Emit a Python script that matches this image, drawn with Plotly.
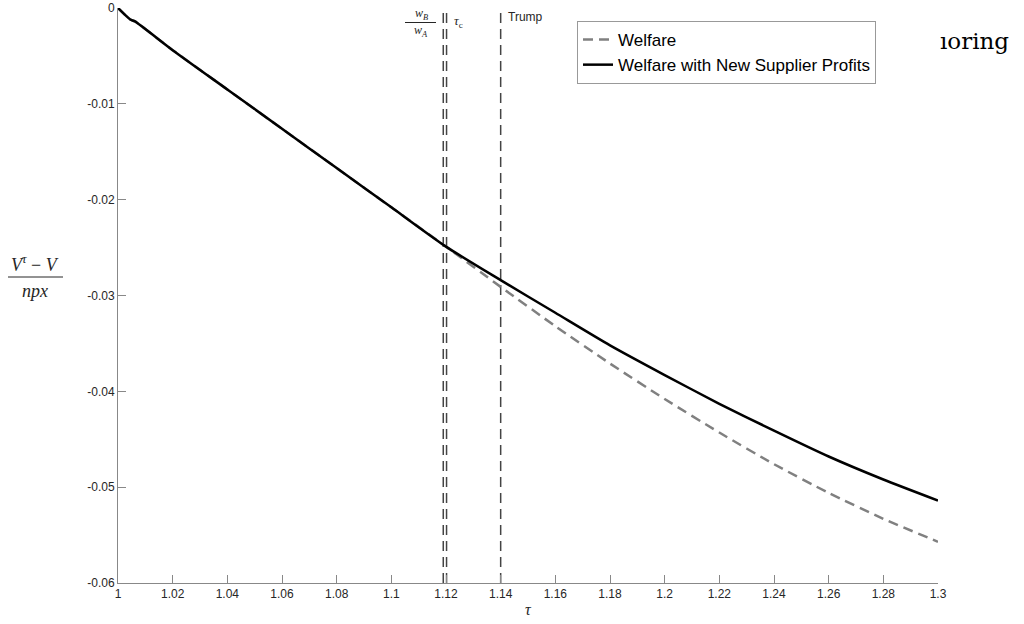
import plotly.graph_objects as go

# ---- data ----
tau = [1.0, 1.0045, 1.0062, 1.02, 1.04, 1.06, 1.08, 1.10, 1.12,
       1.14, 1.16, 1.18, 1.20, 1.22, 1.24, 1.26, 1.28, 1.30]
welfare = [0.0, -0.0012, -0.0014, -0.0044, -0.0085, -0.0126, -0.0167, -0.0208, -0.0249,
           -0.0291, -0.0332, -0.0371, -0.0408, -0.0443, -0.0476, -0.0506, -0.0533, -0.0557]
welfare_profits = [0.0, -0.0012, -0.0014, -0.0044, -0.0085, -0.0126, -0.0167, -0.0208, -0.0249,
                   -0.0284, -0.0318, -0.0352, -0.0383, -0.0413, -0.0441, -0.0468, -0.0492, -0.0514]
vline_x = [1.119, 1.1202, 1.14]

x_tickvals = [1.0, 1.02, 1.04, 1.06, 1.08, 1.1, 1.12, 1.14, 1.16, 1.18, 1.2, 1.22, 1.24, 1.26, 1.28, 1.3]
x_ticktext = ["1", "1.02", "1.04", "1.06", "1.08", "1.1", "1.12", "1.14", "1.16", "1.18", "1.2",
              "1.22", "1.24", "1.26", "1.28", "1.3"]
y_tickvals = [0, -0.01, -0.02, -0.03, -0.04, -0.05, -0.06]
y_ticktext = ["0", "-0.01", "-0.02", "-0.03", "-0.04", "-0.05", "-0.06"]
y_range = [-0.06, 0.0]

# ---- layout geometry ----
W, H = 1024, 624
L, R, T, B = 118, 86, 8, 41
PW, PH = W - L - R, H - T - B


def px(xp):
    return (xp - L) / PW


def py(yp):
    return 1 - (yp - T) / PH


SANS = "Liberation Sans, Arial, Helvetica, sans-serif"
SERIF = "Liberation Serif, DejaVu Serif, serif"
DASH = "10px,6px"

fig = go.Figure()

for xv in vline_x:
    fig.add_trace(go.Scatter(x=[xv, xv], y=y_range, mode="lines",
                             line=dict(color="#444444", width=1.5, dash=DASH),
                             showlegend=False, hoverinfo="skip"))

fig.add_trace(go.Scatter(x=tau, y=welfare, mode="lines", name="Welfare",
                         line=dict(color="#808080", width=2.5, dash=DASH,
                                   shape="spline", smoothing=0.6)))
fig.add_trace(go.Scatter(x=tau, y=welfare_profits, mode="lines",
                         name="Welfare with New Supplier Profits",
                         line=dict(color="#000000", width=2.5,
                                   shape="spline", smoothing=0.6)))

annotations = [
    # w_B / w_A
    dict(x=px(421), y=py(14), text="<i>w</i><sub><i>B</i></sub>", font=dict(family=SERIF, size=12, color="#262626")),
    dict(x=px(421), y=py(31), text="<i>w</i><sub><i>A</i></sub>", font=dict(family=SERIF, size=12, color="#262626")),
    # tau_c
    dict(x=px(452), y=py(22), xanchor="left", text="<i>τ</i><sub>c</sub>", font=dict(family=SERIF, size=13, color="#262626")),
    # Trump
    dict(x=px(506), y=py(17), xanchor="left", text="Trump", font=dict(family=SANS, size=12, color="#262626")),
    # y label fraction
    dict(x=px(35), y=py(263), text="<i>V</i><sup><i>τ</i></sup> − <i>V</i>", font=dict(family=SERIF, size=18, color="#262626")),
    dict(x=px(35), y=py(291), text="<i>npx</i>", font=dict(family=SERIF, size=18, color="#262626")),
    # x label
    dict(x=px(528), y=py(609), text="<i>τ</i>", font=dict(family=SERIF, size=16, color="#262626")),
    # clipped text at top right
    dict(x=px(938), y=py(41), xanchor="left", text="ıoring", font=dict(family="DejaVu Serif, serif", size=23, color="#000000")),
]
for a in annotations:
    a.update(xref="paper", yref="paper", showarrow=False)
    a.setdefault("xanchor", "center")
    a.setdefault("yanchor", "middle")

shapes = [
    dict(type="line", xref="paper", yref="paper", x0=px(405), x1=px(436), y0=py(22.5), y1=py(22.5),
         line=dict(color="#262626", width=1)),
    dict(type="line", xref="paper", yref="paper", x0=px(8), x1=px(63), y0=py(277), y1=py(277),
         line=dict(color="#262626", width=1)),
]

fig.update_layout(
    width=W, height=H,
    margin=dict(l=L, r=R, t=T, b=B, pad=0),
    paper_bgcolor="white", plot_bgcolor="white",
    font=dict(family=SANS, size=12, color="#262626"),
    showlegend=True,
    legend=dict(x=px(577), y=py(21), xanchor="left", yanchor="top",
                bgcolor="white", bordercolor="#999999", borderwidth=1,
                font=dict(family=SANS, size=17, color="#000000"),
                itemwidth=30, tracegroupgap=0),
    annotations=annotations,
    shapes=shapes,
)

axis_style = dict(ticks="inside", ticklen=8, tickcolor="#888888", tickwidth=1,
                  showline=True, linecolor="#888888", linewidth=1,
                  showgrid=False, zeroline=False, automargin=False,
                  tickfont=dict(family=SANS, size=12, color="#262626"))
fig.update_xaxes(range=[1.0, 1.3], tickvals=x_tickvals, ticktext=x_ticktext, **axis_style)
fig.update_yaxes(range=y_range, tickvals=y_tickvals, ticktext=y_ticktext, **axis_style)

fig.write_html("out.html", config={"displayModeBar": False},
               post_script="document.body.style.margin='0px';")
